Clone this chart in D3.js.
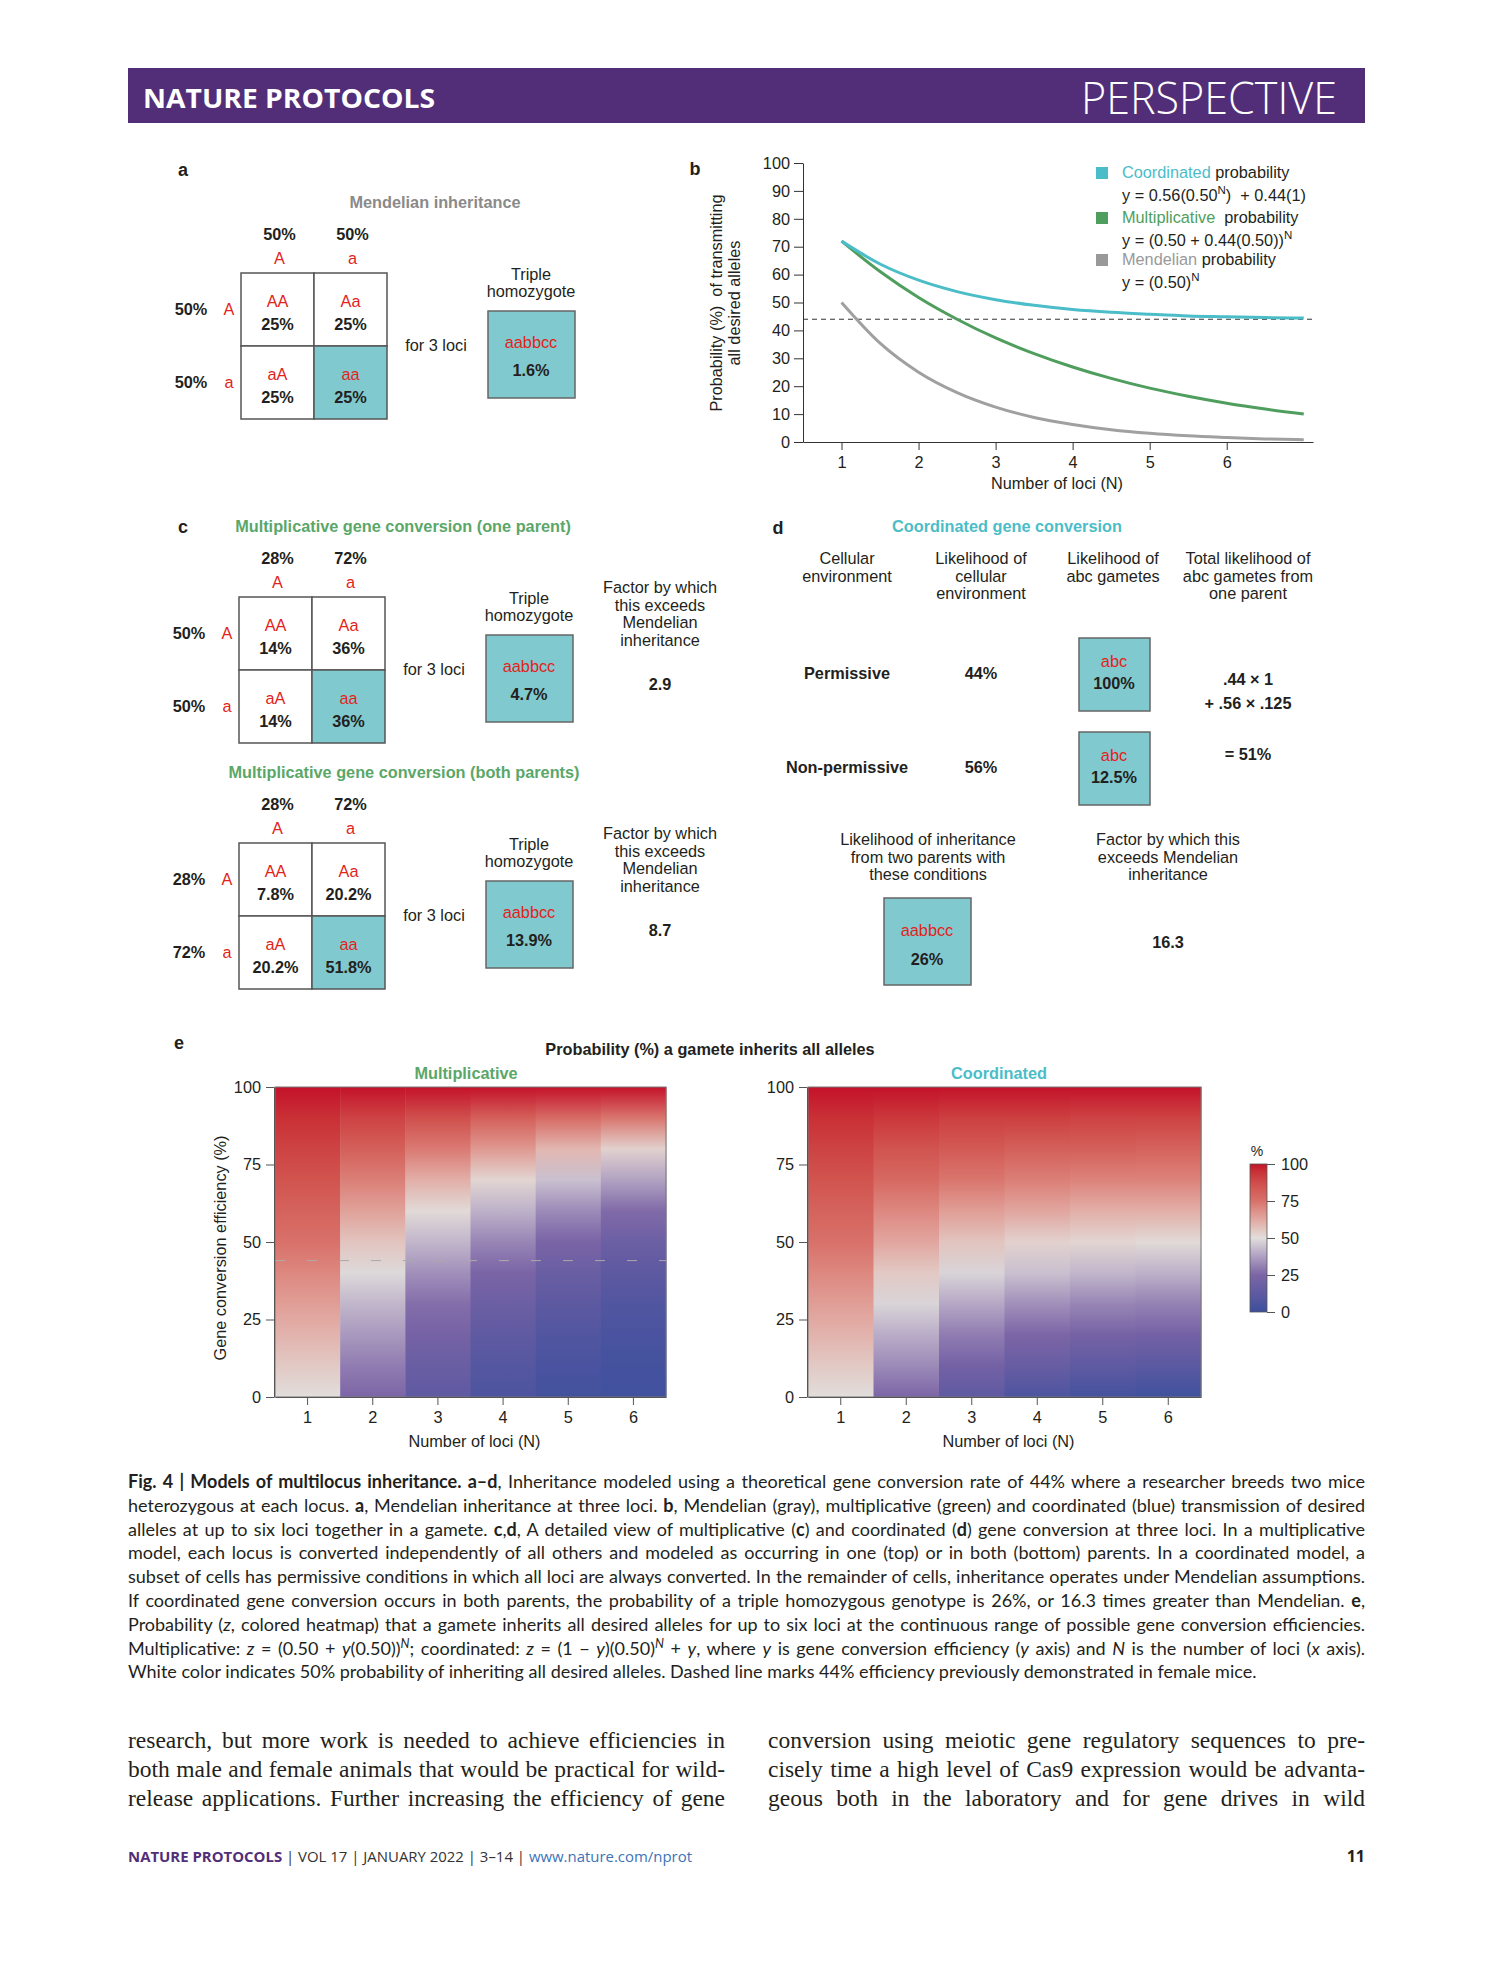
<!DOCTYPE html>
<html>
<head>
<meta charset="utf-8">
<script src="https://cdn.jsdelivr.net/npm/d3@7"></script>
<style>
  body { margin: 0; background: #fff; }
  svg text { font-family: "Liberation Sans", Arial, sans-serif; fill: #231f20; }
</style>
</head>
<body>
<div id="container"></div>
<script>
const w = 1489;
const h = 1978;
const fs = 16.3;

// ---- panel b : curves ----
const curveN = [1, 1.5, 2, 2.5, 3, 3.5, 4, 4.5, 5, 5.5, 6, 6.5, 7];
const coordinated = [72, 63.8, 58, 53.9, 51, 49, 47.5, 46.5, 45.8, 45.2, 44.9, 44.6, 44.4];
const multiplicative = [72, 61.1, 51.8, 44, 37.3, 31.7, 26.9, 22.8, 19.3, 16.4, 13.9, 11.8, 10];
const mendelian = [50, 35.4, 25, 17.7, 12.5, 8.8, 6.3, 4.4, 3.1, 2.2, 1.6, 1.1, 0.8];
const lociTicks = [1, 2, 3, 4, 5, 6];
const probTicks = [0, 10, 20, 30, 40, 50, 60, 70, 80, 90, 100];
const demonstrated = 44;

// ---- panel e : heatmaps, z (%) per locus count at each efficiency ----
const efficiency = [0, 10, 20, 30, 40, 50, 60, 70, 80, 90, 100];
const multHeat = [
  [50, 55, 60, 65, 70, 75, 80, 85, 90, 95, 100],
  [25, 30, 36, 42, 49, 56, 64, 72, 81, 90, 100],
  [13, 17, 22, 27, 34, 42, 51, 61, 73, 86, 100],
  [6, 9, 13, 18, 24, 32, 41, 52, 66, 81, 100],
  [3, 5, 8, 12, 17, 24, 33, 44, 59, 77, 100],
  [2, 3, 5, 8, 12, 18, 26, 38, 53, 74, 100]
];
const coordHeat = [
  [50, 55, 60, 65, 70, 75, 80, 85, 90, 95, 100],
  [25, 33, 40, 48, 55, 63, 70, 78, 85, 93, 100],
  [13, 21, 30, 39, 48, 56, 65, 74, 83, 91, 100],
  [6, 16, 25, 34, 44, 53, 63, 72, 81, 91, 100],
  [3, 13, 22, 32, 42, 52, 61, 71, 81, 90, 100],
  [2, 11, 21, 31, 41, 51, 61, 71, 80, 90, 100]
];
const heatTicks = [0, 25, 50, 75, 100];

// ---- panels a, c : punnett squares ----
const punnettA = {
  title: 'Mendelian inheritance', colPct: ['50%', '50%'], rowPct: ['50%', '50%'],
  cells: ['25%', '25%', '25%', '25%'], triple: '1.6%', factor: null
};
const punnettC1 = {
  title: 'Multiplicative gene conversion (one parent)', colPct: ['28%', '72%'], rowPct: ['50%', '50%'],
  cells: ['14%', '36%', '14%', '36%'], triple: '4.7%', factor: '2.9'
};
const punnettC2 = {
  title: 'Multiplicative gene conversion (both parents)', colPct: ['28%', '72%'], rowPct: ['28%', '72%'],
  cells: ['7.8%', '20.2%', '20.2%', '51.8%'], triple: '13.9%', factor: '8.7'
};
const alleles = ['A', 'a'];
const genotypes = ['AA', 'Aa', 'aA', 'aa'];

// ---- panel d ----
const envNames = ['Permissive', 'Non-permissive'];
const envShare = ['44%', '56%'];
const envGamete = ['100%', '12.5%'];

const red = '#e2231a';
const teal = '#80c9cf';
const cyan = '#4bbdc8';
const green = '#4f9e5e';
const grayLine = '#a0a0a0';

const svg = d3.select('#container')
  .append('svg')
  .attr('width', w)
  .attr('height', h)
  .attr('viewBox', [0, 0, w, h]);

svg.append('rect').attr('width', w).attr('height', h).attr('fill', '#fff');

function txt(g, x, y, s, o = {}) {
  return g.append('text')
    .attr('x', x).attr('y', y)
    .attr('text-anchor', o.anchor || 'middle')
    .attr('font-size', o.size || fs)
    .attr('font-weight', o.bold ? 'bold' : null)
    .style('fill', o.fill || '#231f20')
    .text(s);
}
const axisText = a => a.selectAll('text').attr('font-size', fs).style('font-family', '"Liberation Sans", Arial');

// header bar
svg.append('rect').attr('x', 128).attr('y', 68).attr('width', 1237).attr('height', 55).attr('fill', '#522e78');
svg.append('text').attr('x', 143).attr('y', 108).attr('font-size', 27).attr('font-weight', 'bold')
  .style('font-family', '"Open Sans", sans-serif').style('fill', '#fff')
  .attr('textLength', 292).attr('lengthAdjust', 'spacingAndGlyphs').text('NATURE PROTOCOLS');
svg.append('text').attr('x', 1081).attr('y', 114).attr('font-size', 44)
  .style('font-family', '"Open Sans", sans-serif').style('fill', '#fff').style('font-weight', 300)
  .attr('textLength', 256).attr('lengthAdjust', 'spacingAndGlyphs').text('PERSPECTIVE');

// panel labels
[['a', 183, 176], ['b', 695, 175], ['c', 183, 533], ['d', 778, 534], ['e', 179, 1049]]
  .forEach(d => txt(svg, d[1], d[2], d[0], {size: 18, bold: true}));

// ---------- punnett squares ----------
function punnett(spec, left, top, titleX, titleColor) {
  const g = svg.append('g');
  const cell = 73;
  txt(g, titleX, top - 65, spec.title, {bold: true, fill: titleColor});
  alleles.forEach((a, i) => {
    txt(g, left + cell * i + cell / 2 + 2, top - 33, spec.colPct[i], {bold: true});
    txt(g, left + cell * i + cell / 2 + 2, top - 9, a, {fill: red});
    txt(g, left - 50, top + cell * i + cell / 2 + 5, spec.rowPct[i], {bold: true});
    txt(g, left - 12, top + cell * i + cell / 2 + 5, a, {fill: red});
  });
  genotypes.forEach((gt, k) => {
    const cx = left + (k % 2) * cell, cy = top + Math.floor(k / 2) * cell;
    g.append('rect').attr('x', cx).attr('y', cy).attr('width', cell).attr('height', cell)
      .attr('fill', k === 3 ? teal : '#fff').attr('stroke', '#555').attr('stroke-width', 1.5);
    txt(g, cx + cell / 2, cy + 34, gt, {fill: red});
    txt(g, cx + cell / 2, cy + 57, spec.cells[k], {bold: true});
  });
  txt(g, left + 195, top + cell + 5, 'for 3 loci');
  const bx = left + 247, by = top + 38;
  txt(g, bx + 43, by - 31, 'Triple');
  txt(g, bx + 43, by - 14, 'homozygote');
  g.append('rect').attr('x', bx).attr('y', by).attr('width', 87).attr('height', 87)
    .attr('fill', teal).attr('stroke', '#666').attr('stroke-width', 1.5);
  txt(g, bx + 43, by + 37, 'aabbcc', {fill: red});
  txt(g, bx + 43, by + 65, spec.triple, {bold: true});
  if (spec.factor) {
    ['Factor by which', 'this exceeds', 'Mendelian', 'inheritance'].forEach((s, i) =>
      txt(g, 660, top - 4 + i * 17.5, s));
    txt(g, 660, top + 93, spec.factor, {bold: true});
  }
}
punnett(punnettA, 241, 273, 435, '#8a8a8a');
punnett(punnettC1, 239, 597, 403, '#5aa769');
punnett(punnettC2, 239, 843, 404, '#5aa769');

// ---------- panel b ----------
const xb = d3.scaleLinear().domain([0.5, 7.12]).range([803, 1313]);
const yb = d3.scaleLinear().domain([0, 100]).range([442, 163]);
const gb = svg.append('g');

gb.append('g').attr('transform', 'translate(803,0)')
  .call(d3.axisLeft(yb).tickValues(probTicks).tickSize(9).tickSizeOuter(0).tickPadding(4))
  .call(axisText);
gb.append('g').attr('transform', 'translate(0,442)')
  .call(d3.axisBottom(xb).tickValues(lociTicks).tickFormat(d3.format('d')).tickSize(8).tickSizeOuter(0).tickPadding(6))
  .call(axisText);
gb.selectAll('.domain, .tick line').attr('stroke', '#333');

gb.append('line').attr('x1', 803).attr('x2', 1313).attr('y1', yb(demonstrated)).attr('y2', yb(demonstrated))
  .attr('stroke', '#333').attr('stroke-width', 1).attr('stroke-dasharray', '5,4');

const line = d3.line().x(d => xb(d[0])).y(d => yb(d[1])).curve(d3.curveMonotoneX);
[[mendelian, grayLine], [multiplicative, green], [coordinated, cyan]].forEach(([vals, col]) => {
  gb.append('path').datum(curveN.map((n, i) => [n, vals[i]]))
    .attr('fill', 'none').attr('stroke', col).attr('stroke-width', 3).attr('d', line);
});

txt(gb, 1057, 489, 'Number of loci (N)');
txt(gb, 0, 0, 'Probability (%)\u00a0\u00a0of transmitting').attr('transform', 'translate(722,303) rotate(-90)');
txt(gb, 0, 0, 'all desired alleles').attr('transform', 'translate(740,303) rotate(-90)');

function legendRow(y, col, name, formula) {
  gb.append('rect').attr('x', 1096).attr('y', y - 11).attr('width', 12).attr('height', 12).attr('fill', col);
  const t = txt(gb, 1122, y, '', {anchor: 'start'});
  t.append('tspan').style('fill', col).text(name);
  t.append('tspan').text(' probability');
  const f = txt(gb, 1122, y + 23, '', {anchor: 'start'});
  formula.forEach(p => {
    const ts = f.append('tspan').text(p[0]);
    if (p[1] === 'sup') ts.attr('dy', -7).attr('font-size', 11.5);
    if (p[1] === 'down') ts.attr('dy', 7);
  });
}
legendRow(178, cyan, 'Coordinated', [['y = 0.56(0.50'], ['N', 'sup'], [')\u00a0\u00a0+ 0.44(1)', 'down']]);
legendRow(223, green, 'Multiplicative\u00a0', [['y = (0.50 + 0.44(0.50))'], ['N', 'sup']]);
legendRow(265, '#999', 'Mendelian', [['y = (0.50)'], ['N', 'sup']]);

// ---------- panel d ----------
const gd = svg.append('g');
txt(gd, 1007, 532, 'Coordinated gene conversion', {bold: true, fill: cyan});
const dCols = [847, 981, 1113, 1248];
[['Cellular', 'environment'], ['Likelihood of', 'cellular', 'environment'],
 ['Likelihood of', 'abc gametes'], ['Total likelihood of', 'abc gametes from', 'one parent']]
  .forEach((lines, i) => lines.forEach((s, j) => txt(gd, dCols[i], 564 + j * 17.5, s)));
envNames.forEach((name, i) => {
  const top = 638 + i * 94;
  txt(gd, dCols[0], top + 41, name, {bold: true});
  txt(gd, dCols[1], top + 41, envShare[i], {bold: true});
  gd.append('rect').attr('x', 1079).attr('y', top).attr('width', 71).attr('height', 73)
    .attr('fill', teal).attr('stroke', '#666').attr('stroke-width', 1.5);
  txt(gd, 1114, top + 29, 'abc', {fill: red});
  txt(gd, 1114, top + 51, envGamete[i], {bold: true});
});
txt(gd, dCols[3], 685, '.44 × 1', {bold: true});
txt(gd, dCols[3], 709, '+ .56 × .125', {bold: true});
txt(gd, dCols[3], 760, '= 51%', {bold: true});
['Likelihood of inheritance', 'from two parents with', 'these conditions']
  .forEach((s, j) => txt(gd, 928, 845 + j * 17.5, s));
['Factor by which this', 'exceeds Mendelian', 'inheritance']
  .forEach((s, j) => txt(gd, 1168, 845 + j * 17.5, s));
gd.append('rect').attr('x', 884).attr('y', 898).attr('width', 87).attr('height', 87)
  .attr('fill', teal).attr('stroke', '#666').attr('stroke-width', 1.5);
txt(gd, 927, 936, 'aabbcc', {fill: red});
txt(gd, 927, 965, '26%', {bold: true});
txt(gd, 1168, 948, '16.3', {bold: true});

// ---------- panel e ----------
const color = d3.scaleLinear()
  .domain([0, 25, 50, 75, 100])
  .range(['#3b4f9d', '#7c65a6', '#e1dedc', '#d8716a', '#c4122a'])
  .interpolate(d3.interpolateLab);
const defs = svg.append('defs');
const ye = d3.scaleLinear().domain([0, 100]).range([1397, 1087]);

function heatmap(id, values, x0, x1, title, titleX, titleColor, dashed) {
  const g = svg.append('g');
  const xe = d3.scaleBand().domain(lociTicks).range([x0, x1]);
  values.forEach((col, i) => {
    const grad = defs.append('linearGradient').attr('id', id + i)
      .attr('x1', 0).attr('y1', 1).attr('x2', 0).attr('y2', 0);
    grad.selectAll('stop').data(efficiency).join('stop')
      .attr('offset', (e, k) => e / 100)
      .attr('stop-color', (e, k) => color(col[k]));
    g.append('rect').attr('x', xe(lociTicks[i])).attr('y', ye(100))
      .attr('width', xe.bandwidth() + 0.5).attr('height', ye(0) - ye(100))
      .attr('fill', `url(#${id}${i})`);
  });
  g.append('rect').attr('x', x0).attr('y', ye(100)).attr('width', x1 - x0).attr('height', ye(0) - ye(100))
    .attr('fill', 'none').attr('stroke', '#777').attr('stroke-width', 1);
  if (dashed) {
    g.append('line').attr('x1', x0).attr('x2', x1).attr('y1', ye(demonstrated)).attr('y2', ye(demonstrated))
      .attr('stroke', '#aaa').attr('stroke-width', 1).attr('stroke-dasharray', '10,22');
  }
  g.append('g').attr('transform', `translate(${x0 - 1},0)`)
    .call(d3.axisLeft(ye).tickValues(heatTicks).tickSize(8).tickSizeOuter(0).tickPadding(5))
    .call(axisText);
  g.append('g').attr('transform', `translate(0,${ye(0)})`)
    .call(d3.axisBottom(xe).tickSize(8).tickSizeOuter(0).tickPadding(6))
    .call(axisText);
  g.selectAll('.domain, .tick line').attr('stroke', '#555');
  txt(g, titleX, 1079, title, {bold: true, fill: titleColor});
  txt(g, (x0 + x1) / 2 + 4, 1447, 'Number of loci (N)');
}
heatmap('mult', multHeat, 275, 666, 'Multiplicative', 466, '#5aa769', true);
heatmap('coord', coordHeat, 808, 1201, 'Coordinated', 999, cyan, false);
txt(svg, 710, 1055, 'Probability (%) a gamete inherits all alleles', {bold: true});
txt(svg, 0, 0, 'Gene conversion efficiency (%)').attr('transform', 'translate(226,1248) rotate(-90)');

// colour legend
const yl = d3.scaleLinear().domain([0, 100]).range([1312, 1164]);
const lg = defs.append('linearGradient').attr('id', 'legendGrad')
  .attr('x1', 0).attr('y1', 1).attr('x2', 0).attr('y2', 0);
lg.selectAll('stop').data(d3.range(0, 101, 5)).join('stop')
  .attr('offset', d => d / 100).attr('stop-color', d => color(d));
svg.append('rect').attr('x', 1250).attr('y', yl(100)).attr('width', 17).attr('height', yl(0) - yl(100))
  .attr('fill', 'url(#legendGrad)').attr('stroke', '#555').attr('stroke-width', 0.8);
svg.append('g').attr('transform', 'translate(1267,0)')
  .call(d3.axisRight(yl).tickValues(heatTicks).tickSize(8).tickPadding(6))
  .call(a => a.select('.domain').remove())
  .call(axisText)
  .call(a => a.selectAll('.tick line').attr('stroke', '#555'));
txt(svg, 1257, 1156, '%', {size: 14});

// ---------- caption ----------
function justify(sel, target) {
  const node = sel.node();
  const nat = node.getComputedTextLength();
  const spaces = (node.textContent.match(/ /g) || []).length;
  if (nat > target) sel.attr('textLength', target).attr('lengthAdjust', 'spacingAndGlyphs');
  else if (spaces) sel.attr('word-spacing', (target - nat) / spaces);
}
function richLine(x, y, parts, o) {
  const t = svg.append('text').attr('x', x).attr('y', y).attr('font-size', o.size)
    .style('font-family', o.font).style('fill', o.fill || '#231f20');
  let lift = 0;
  parts.forEach(p => {
    const ts = t.append('tspan').text(p[0]);
    const st = p[1] || '';
    if (st.includes('b')) ts.attr('font-weight', 'bold');
    if (st.includes('i')) ts.style('font-style', 'italic');
    if (st.includes('c')) ts.style('fill', p[2]);
    if (st === 'sup') { ts.attr('dy', -7).attr('font-size', o.size * 0.7).style('font-style', 'italic'); lift = 7; }
    else if (lift) { ts.attr('dy', lift); lift = 0; }
  });
  return t;
}
const caption = [
  [['Fig. 4 | Models of multilocus inheritance. a–d', 'b'], [', Inheritance modeled using a theoretical gene conversion rate of 44% where a researcher breeds two mice']],
  [['heterozygous at each locus. '], ['a', 'b'], [', Mendelian inheritance at three loci. '], ['b', 'b'], [', Mendelian (gray), multiplicative (green) and coordinated (blue) transmission of desired']],
  [['alleles at up to six loci together in a gamete. '], ['c', 'b'], [','], ['d', 'b'], [', A detailed view of multiplicative ('], ['c', 'b'], [') and coordinated ('], ['d', 'b'], [') gene conversion at three loci. In a multiplicative']],
  [['model, each locus is converted independently of all others and modeled as occurring in one (top) or in both (bottom) parents. In a coordinated model, a']],
  [['subset of cells has permissive conditions in which all loci are always converted. In the remainder of cells, inheritance operates under Mendelian assumptions.']],
  [['If coordinated gene conversion occurs in both parents, the probability of a triple homozygous genotype is 26%, or 16.3 times greater than Mendelian. '], ['e', 'b'], [',']],
  [['Probability ('], ['z', 'i'], [', colored heatmap) that a gamete inherits all desired alleles for up to six loci at the continuous range of possible gene conversion efficiencies.']],
  [['Multiplicative: '], ['z', 'i'], [' = (0.50 + '], ['y', 'i'], ['(0.50))'], ['N', 'sup'], ['; coordinated: '], ['z', 'i'], [' = (1 − '], ['y', 'i'], [')(0.50)'], ['N', 'sup'], [' + '], ['y', 'i'], [', where '], ['y', 'i'], [' is gene conversion efficiency ('], ['y', 'i'], [' axis) and '], ['N', 'i'], [' is the number of loci ('], ['x', 'i'], [' axis).']],
  [['White color indicates 50% probability of inheriting all desired alleles. Dashed line marks 44% efficiency previously demonstrated in female mice.']]
];
const capOpt = {size: 18, font: 'Lato, "Open Sans", sans-serif'};
caption.forEach((parts, i) => {
  const t = richLine(128, 1488 + i * 23.8, parts, capOpt);
  if (i < caption.length - 1) justify(t, 1237);
});

// ---------- body text ----------
const bodyLeft = [
  'research, but more work is needed to achieve efficiencies in',
  'both male and female animals that would be practical for wild-',
  'release applications. Further increasing the efficiency of gene'
];
const bodyRight = [
  'conversion using meiotic gene regulatory sequences to pre-',
  'cisely time a high level of Cas9 expression would be advanta-',
  'geous both in the laboratory and for gene drives in wild'
];
const bodyOpt = {size: 23.5, font: '"Liberation Serif", "DejaVu Serif", serif'};
bodyLeft.forEach((s, i) => justify(richLine(128, 1748 + i * 29, [[s]], bodyOpt), 597));
bodyRight.forEach((s, i) => justify(richLine(768, 1748 + i * 29, [[s]], bodyOpt), 597));

// ---------- footer ----------
const foot = richLine(128, 1862, [
  ['NATURE PROTOCOLS', 'bc', '#522e78'], [' | VOL 17 | JANUARY 2022 | 3–14 | ', 'c', '#333'],
  ['www.nature.com/nprot', 'c', '#3b73b9']
], {size: 15, font: '"Open Sans", sans-serif'});
foot.attr('textLength', 564).attr('lengthAdjust', 'spacingAndGlyphs');
txt(svg, 1365, 1862, '11', {anchor: 'end', bold: true, size: 16}).style('font-family', '"Open Sans", sans-serif');
</script>
</body>
</html>
